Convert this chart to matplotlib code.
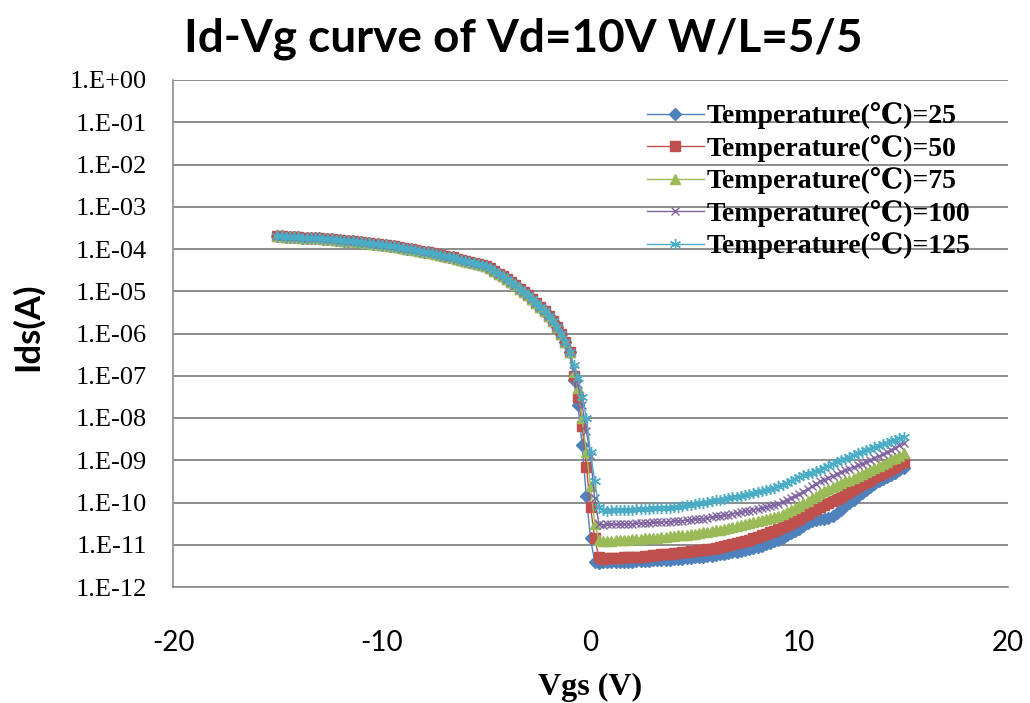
import numpy as np
import matplotlib
matplotlib.use('Agg')
import matplotlib.pyplot as plt
from matplotlib.ticker import FixedLocator, FuncFormatter

plt.rcParams['axes.unicode_minus'] = False

# Gate sweep -15 V .. 15 V, 0.2 V step
vgs = np.linspace(-15, 15, 151)

# log10(Ids) on the on-branch, -15.0 .. -1.0 V (all temperatures overlap here)
on_branch = [
    -3.70, -3.70, -3.71, -3.71, -3.72,
    -3.72, -3.73, -3.73, -3.74, -3.74,
    -3.75, -3.76, -3.76, -3.77, -3.78,
    -3.79, -3.80, -3.81, -3.82, -3.83,
    -3.84, -3.85, -3.86, -3.87, -3.88,
    -3.90, -3.91, -3.92, -3.94, -3.95,
    -3.97, -3.99, -4.00, -4.02, -4.04,
    -4.06, -4.08, -4.10, -4.12, -4.14,
    -4.16, -4.18, -4.20, -4.23, -4.25,
    -4.28, -4.30, -4.33, -4.36, -4.38,
    -4.41, -4.46, -4.52, -4.58, -4.64,
    -4.70, -4.78, -4.86, -4.94, -5.02,
    -5.10, -5.18, -5.27, -5.37, -5.47,
    -5.58, -5.70, -5.84, -6.00, -6.20,
    -6.43,
]

# log10(Ids) for -0.8 .. 15.0 V, one list per temperature
t25 = [
    -7.10, -7.70, -8.65, -9.85, -10.85, -11.40, -11.43, -11.42, -11.42, -11.41,
    -11.41, -11.41, -11.40, -11.40, -11.40, -11.39, -11.39, -11.38, -11.38, -11.37,
    -11.37, -11.36, -11.36, -11.35, -11.34, -11.34, -11.33, -11.32, -11.31, -11.30,
    -11.29, -11.28, -11.27, -11.26, -11.24, -11.23, -11.21, -11.20, -11.18, -11.16,
    -11.14, -11.12, -11.10, -11.07, -11.05, -11.02, -10.99, -10.95, -10.92, -10.88,
    -10.83, -10.78, -10.73, -10.67, -10.62, -10.55, -10.48, -10.44, -10.42, -10.40,
    -10.38, -10.37, -10.32, -10.25, -10.17, -10.09, -10.01, -9.93, -9.85, -9.78,
    -9.71, -9.64, -9.57, -9.50, -9.45, -9.39, -9.34, -9.29, -9.24, -9.19,
]
t50 = [
    -7.00, -7.50, -8.20, -9.15, -10.10, -10.85, -11.30, -11.33, -11.32, -11.32,
    -11.31, -11.31, -11.30, -11.30, -11.29, -11.28, -11.28, -11.27, -11.26, -11.25,
    -11.24, -11.23, -11.22, -11.21, -11.20, -11.19, -11.18, -11.17, -11.15, -11.14,
    -11.13, -11.12, -11.10, -11.09, -11.07, -11.05, -11.03, -11.01, -10.99, -10.97,
    -10.94, -10.91, -10.88, -10.85, -10.82, -10.78, -10.75, -10.71, -10.67, -10.63,
    -10.58, -10.53, -10.48, -10.43, -10.38, -10.32, -10.27, -10.21, -10.15, -10.10,
    -10.06, -10.01, -9.97, -9.92, -9.86, -9.81, -9.75, -9.69, -9.62, -9.56,
    -9.51, -9.46, -9.40, -9.35, -9.30, -9.25, -9.20, -9.15, -9.10, -9.05,
]
t75 = [
    -6.90, -7.30, -8.00, -8.80, -9.60, -10.50, -10.88, -10.91, -10.90, -10.90,
    -10.89, -10.89, -10.88, -10.88, -10.87, -10.86, -10.86, -10.85, -10.84, -10.84,
    -10.83, -10.82, -10.81, -10.80, -10.79, -10.78, -10.77, -10.76, -10.75, -10.74,
    -10.72, -10.71, -10.69, -10.68, -10.66, -10.64, -10.62, -10.60, -10.58, -10.56,
    -10.54, -10.51, -10.49, -10.46, -10.44, -10.42, -10.39, -10.37, -10.35, -10.32,
    -10.27, -10.22, -10.17, -10.13, -10.08, -10.02, -9.96, -9.90, -9.84, -9.78,
    -9.72, -9.67, -9.63, -9.59, -9.55, -9.50, -9.46, -9.41, -9.37, -9.32,
    -9.27, -9.22, -9.18, -9.13, -9.08, -9.03, -8.98, -8.94, -8.89, -8.84,
]
t100 = [
    -6.85, -7.20, -7.70, -8.30, -8.90, -9.90, -10.50, -10.53, -10.52, -10.52,
    -10.52, -10.51, -10.51, -10.50, -10.50, -10.49, -10.49, -10.48, -10.48, -10.47,
    -10.47, -10.46, -10.46, -10.45, -10.44, -10.44, -10.43, -10.42, -10.41, -10.40,
    -10.39, -10.38, -10.36, -10.35, -10.33, -10.32, -10.30, -10.29, -10.27, -10.25,
    -10.23, -10.21, -10.19, -10.17, -10.15, -10.13, -10.10, -10.08, -10.06, -10.03,
    -9.98, -9.93, -9.89, -9.84, -9.80, -9.74, -9.68, -9.62, -9.56, -9.50,
    -9.46, -9.41, -9.37, -9.32, -9.28, -9.24, -9.20, -9.16, -9.12, -9.08,
    -9.04, -8.99, -8.95, -8.90, -8.86, -8.81, -8.76, -8.70, -8.65, -8.60,
]
t125 = [
    -6.75, -7.05, -7.50, -8.00, -8.80, -9.50, -10.10, -10.18, -10.19, -10.18,
    -10.18, -10.18, -10.17, -10.17, -10.17, -10.16, -10.16, -10.15, -10.15, -10.14,
    -10.14, -10.13, -10.12, -10.12, -10.11, -10.10, -10.08, -10.07, -10.05, -10.03,
    -10.02, -10.00, -9.99, -9.97, -9.95, -9.94, -9.92, -9.90, -9.88, -9.86,
    -9.84, -9.82, -9.80, -9.77, -9.75, -9.72, -9.70, -9.67, -9.65, -9.62,
    -9.58, -9.53, -9.49, -9.44, -9.40, -9.36, -9.33, -9.29, -9.26, -9.22,
    -9.18, -9.13, -9.09, -9.04, -9.00, -8.96, -8.92, -8.88, -8.84, -8.80,
    -8.76, -8.73, -8.69, -8.66, -8.62, -8.59, -8.55, -8.52, -8.48, -8.45,
]

temps = [25, 50, 75, 100, 125]
series = [t25, t50, t75, t100, t125]
colors = ['#4F81BD', '#C0504D', '#9BBB59', '#8064A2', '#4BACC6']
markers = ['D', 's', '^', 'x', (6, 2, 0)]
msizes = [6, 6.5, 7, 6, 8]

fig = plt.figure(figsize=(10.30, 7.03), dpi=100)
ax = fig.add_axes([173 / 1030, 1 - 587 / 703, (1008 - 173) / 1030, (587 - 80) / 703])

for t, s, c, m, ms in zip(temps, series, colors, markers, msizes):
    ids = 10 ** np.array(on_branch + s)
    ax.plot(vgs, ids, color=c, marker=m, markersize=ms, linewidth=1.0,
            markeredgewidth=1.0, label='Temperature(\u2103)=%d' % t)

ax.set_yscale('log')
ax.set_ylim(1e-12, 1)
ax.set_xlim(-20, 20)
ax.yaxis.set_major_locator(FixedLocator([10.0 ** k for k in range(-12, 1)]))
ax.yaxis.set_minor_locator(FixedLocator([]))
ax.yaxis.set_major_formatter(FuncFormatter(lambda v, p: '1.E%+03d' % round(np.log10(v))))
ax.set_xticks([-20, -10, 0, 10, 20])

ax.grid(axis='y', color='#8C8C8C', linewidth=1.4)
ax.set_axisbelow(True)
for side in ['top', 'right']:
    ax.spines[side].set_visible(False)
for side in ['left', 'bottom']:
    ax.spines[side].set_color('#8C8C8C')
    ax.spines[side].set_linewidth(1.2)

ax.tick_params(axis='y', length=0, pad=19, labelsize=19)
ax.tick_params(axis='x', length=0, pad=31, labelsize=20)
for lab in ax.get_yticklabels():
    lab.set_family('Liberation Serif')
for lab in ax.get_xticklabels():
    lab.set_family('Lato')

fig.text(0.508, 0.945, 'Id-Vg curve of Vd=10V W/L=5/5', ha='center', va='center',
         fontsize=33, fontweight='bold', family='Lato')
fig.text(0.027, 0.535, 'Ids(A)', rotation=90, ha='center', va='center',
         fontsize=25, fontweight='bold', family='Lato')
fig.text(0.573, 0.022, 'Vgs (V)', ha='center', va='center',
         fontsize=23, fontweight='bold', family='Liberation Serif')

leg = ax.legend(loc='upper right', bbox_to_anchor=(0.968, 0.978), frameon=False,
                prop={'family': ['Liberation Serif', 'DejaVu Serif'], 'weight': 'bold', 'size': 20},
                handlelength=2.05, handletextpad=0.1, labelspacing=0.2, borderaxespad=0)

fig.savefig('out.png', dpi=100)
